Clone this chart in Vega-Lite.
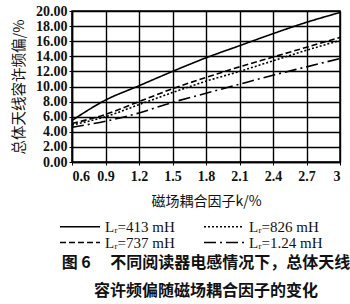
{
  "$schema": "https://vega.github.io/schema/vega-lite/v6.json",
  "width": 268,
  "height": 151,
  "autosize": "none",
  "padding": {"left": 72, "top": 11, "right": 10, "bottom": 142},
  "background": "white",
  "config": {"view": {"stroke": "black", "strokeWidth": 1.5}},
  "title": {
    "text": ["图 6　 不同阅读器电感情况下，总体天线", "容许频偏随磁场耦合因子的变化"],
    "orient": "bottom",
    "anchor": "middle",
    "font": "Noto Sans CJK SC",
    "fontWeight": "bold",
    "fontSize": 16,
    "lineHeight": 28,
    "color": "#111",
    "offset": 4
  },
  "data": {
    "values": [
      {"k": 0.6, "dev": 5.5, "L": "413"}, {"k": 0.9, "dev": 8.2, "L": "413"}, {"k": 1.2, "dev": 10.1, "L": "413"}, {"k": 1.5, "dev": 12.0, "L": "413"}, {"k": 1.8, "dev": 13.8, "L": "413"}, {"k": 2.1, "dev": 15.4, "L": "413"}, {"k": 2.4, "dev": 17.0, "L": "413"}, {"k": 2.7, "dev": 18.5, "L": "413"}, {"k": 3.0, "dev": 19.8, "L": "413"},
      {"k": 0.6, "dev": 4.9, "L": "826"}, {"k": 0.9, "dev": 6.0, "L": "826"}, {"k": 1.2, "dev": 7.6, "L": "826"}, {"k": 1.5, "dev": 9.2, "L": "826"}, {"k": 1.8, "dev": 10.7, "L": "826"}, {"k": 2.1, "dev": 12.0, "L": "826"}, {"k": 2.4, "dev": 13.4, "L": "826"}, {"k": 2.7, "dev": 14.8, "L": "826"}, {"k": 3.0, "dev": 16.1, "L": "826"},
      {"k": 0.6, "dev": 5.1, "L": "737"}, {"k": 0.9, "dev": 6.3, "L": "737"}, {"k": 1.2, "dev": 8.0, "L": "737"}, {"k": 1.5, "dev": 9.7, "L": "737"}, {"k": 1.8, "dev": 11.2, "L": "737"}, {"k": 2.1, "dev": 12.6, "L": "737"}, {"k": 2.4, "dev": 13.9, "L": "737"}, {"k": 2.7, "dev": 15.2, "L": "737"}, {"k": 3.0, "dev": 16.5, "L": "737"},
      {"k": 0.6, "dev": 4.6, "L": "1.24"}, {"k": 0.9, "dev": 5.4, "L": "1.24"}, {"k": 1.2, "dev": 6.5, "L": "1.24"}, {"k": 1.5, "dev": 7.9, "L": "1.24"}, {"k": 1.8, "dev": 9.1, "L": "1.24"}, {"k": 2.1, "dev": 10.3, "L": "1.24"}, {"k": 2.4, "dev": 11.5, "L": "1.24"}, {"k": 2.7, "dev": 12.6, "L": "1.24"}, {"k": 3.0, "dev": 13.7, "L": "1.24"}
    ]
  },
  "mark": {"type": "line", "color": "black", "strokeWidth": 1.6, "interpolate": "monotone"},
  "encoding": {
    "x": {
      "field": "k", "type": "quantitative",
      "scale": {"domain": [0.6, 3], "nice": false, "zero": false},
      "axis": {
        "values": [0.6, 0.9, 1.2, 1.5, 1.8, 2.1, 2.4, 2.7, 3],
        "format": "~g",
        "title": "磁场耦合因子k/%",
        "titleFont": "Noto Sans CJK SC", "titleFontSize": 14, "titleFontWeight": "normal", "titleColor": "#111",
        "titlePadding": 11,
        "labelFont": "Liberation Serif", "labelFontSize": 14, "labelFontWeight": "bold", "labelColor": "#111",
        "labelPadding": 4,
        "domainColor": "black", "domainWidth": 1.5,
        "tickColor": "black", "tickSize": 3,
        "gridColor": "black", "gridWidth": 1.4, "gridOpacity": 1
      }
    },
    "y": {
      "field": "dev", "type": "quantitative",
      "scale": {"domain": [0, 20], "nice": false},
      "axis": {
        "values": [0, 2, 4, 6, 8, 10, 12, 14, 16, 18, 20],
        "format": ".2f",
        "title": "总体天线容许频偏/%",
        "titleFont": "Noto Sans CJK SC", "titleFontSize": 14.5, "titleFontWeight": "normal", "titleColor": "#111",
        "titlePadding": 9,
        "labelFont": "Liberation Serif", "labelFontSize": 14, "labelFontWeight": "bold", "labelColor": "#111",
        "labelPadding": 2,
        "domainColor": "black", "domainWidth": 1.5,
        "tickColor": "black", "tickSize": 3,
        "gridColor": "black", "gridWidth": 1.4, "gridOpacity": 1
      }
    },
    "strokeDash": {
      "field": "L", "type": "nominal",
      "scale": {
        "domain": ["413", "737", "826", "1.24"],
        "range": [[1, 0], [6, 3], [2, 2], [12, 4, 2, 4]]
      },
      "legend": {
        "title": null,
        "orient": "none",
        "legendX": -13,
        "legendY": 209,
        "columns": 2,
        "columnPadding": 28,
        "rowPadding": 0,
        "clipHeight": 13,
        "symbolType": "stroke",
        "symbolSize": 1600,
        "symbolStrokeColor": "black",
        "symbolStrokeWidth": 1.4,
        "labelFont": "Liberation Serif",
        "labelFontSize": 15,
        "labelColor": "#111",
        "labelExpr": "'Lᵣ=' + datum.label + ' mH'"
      }
    }
  }
}
